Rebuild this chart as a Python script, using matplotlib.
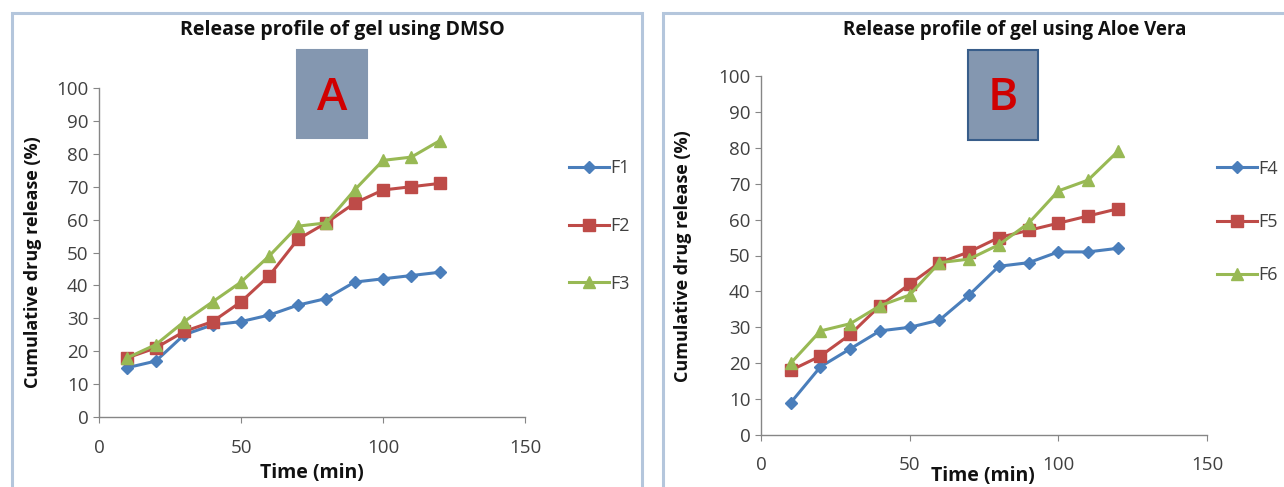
import matplotlib
matplotlib.use('Agg')
import matplotlib.pyplot as plt
from matplotlib.patches import Rectangle

plt.rcParams['font.family'] = ['Open Sans', 'DejaVu Sans']

# Data
time = [10, 20, 30, 40, 50, 60, 70, 80, 90, 100, 110, 120]

f1 = [15, 17, 25, 28, 29, 31, 34, 36, 41, 42, 43, 44]
f2 = [18, 21, 26, 29, 35, 43, 54, 59, 65, 69, 70, 71]
f3 = [18, 22, 29, 35, 41, 49, 58, 59, 69, 78, 79, 84]

f4 = [9, 19, 24, 29, 30, 32, 39, 47, 48, 51, 51, 52]
f5 = [18, 22, 28, 36, 42, 48, 51, 55, 57, 59, 61, 63]
f6 = [20, 29, 31, 36, 39, 48, 49, 53, 59, 68, 71, 79]

x_ticks = [0, 50, 100, 150]
y_ticks = list(range(0, 101, 10))

W, H = 1284, 487
BLUE, RED, GREEN = '#4A7EBB', '#BE4B48', '#98B954'
AXIS_GREY = '#868686'
TEXT = '#404040'


def fx(px):
    return px / W


def fy(py):
    return 1 - py / H


fig = plt.figure(figsize=(W / 100, H / 100), dpi=100)

# panel frames
for x0, x1 in [(12, 642), (663, 1300)]:
    fig.patches.append(Rectangle((fx(x0), fy(500)), fx(x1) - fx(x0), fy(13) - fy(500),
                                 transform=fig.transFigure, fill=False,
                                 edgecolor='#B4C6DC', linewidth=2.2, zorder=0))


def panel(rect, series, labels, title, title_x, title_size, letter, box, box_edge,
          ylabel_x, ylabel_y, xtick_pad, leg_anchor, leg_space):
    ax = fig.add_axes(rect)
    markers = ['D', 's', '^']
    sizes = [6, 8.5, 8.5]
    colors = [BLUE, RED, GREEN]
    for vals, lab, m, ms, c in zip(series, labels, markers, sizes, colors):
        ax.plot(time, vals, color=c, marker=m, markersize=ms, linewidth=2.2,
                markeredgecolor=c, label=lab)
    ax.set_xlim(0, 150)
    ax.set_ylim(0, 100)
    ax.set_xticks(x_ticks)
    ax.set_yticks(y_ticks)
    for s in ['top', 'right']:
        ax.spines[s].set_visible(False)
    for s in ['left', 'bottom']:
        ax.spines[s].set_color(AXIS_GREY)
        ax.spines[s].set_linewidth(1)
    ax.tick_params(colors=AXIS_GREY, labelcolor=TEXT, labelsize=13.5, length=4)
    ax.tick_params(axis='x', pad=xtick_pad)
    ax.legend(loc='center left', bbox_to_anchor=leg_anchor,
              bbox_transform=fig.transFigure, frameon=False, fontsize=13,
              labelspacing=leg_space, handlelength=2.2, handletextpad=0.1,
              borderpad=0, borderaxespad=0, labelcolor=TEXT)
    fig.text(fx(title_x), fy(30), title, ha='center', va='center',
             fontsize=title_size, fontweight='bold', color='#111111')
    fig.text(fx(ylabel_x), fy(ylabel_y), 'Cumulative drug release (%)',
             rotation=90, ha='center', va='center',
             fontsize=13, fontweight='bold', color='#111111')
    bx0, by0, bx1, by1 = box
    fig.patches.append(Rectangle((fx(bx0), fy(by1)), fx(bx1) - fx(bx0), fy(by0) - fy(by1),
                                 transform=fig.transFigure, facecolor='#8497B0',
                                 edgecolor=box_edge, linewidth=1.5, zorder=5))
    fig.text(fx((bx0 + bx1) / 2), fy((by0 + by1) / 2 + 4), letter, ha='center', va='center',
             fontsize=33, fontweight='semibold', color='#D00000', zorder=6)
    return ax


axA = panel([fx(99), fy(417), fx(525) - fx(99), fy(88) - fy(417)],
            [f1, f2, f3], ['F1', 'F2', 'F3'],
            'Release profile of gel using DMSO', 342, 14, 'A',
            (297, 50, 367, 138), '#8497B0', 33, 262, 12,
            (fx(569), fy(226)), 2.2)
fig.text(fx(312), fy(473), 'Time (min)', ha='center', va='center',
         fontsize=14, fontweight='bold', color='#111111')

axB = panel([fx(761), fy(435), fx(1207) - fx(761), fy(76) - fy(435)],
            [f4, f5, f6], ['F4', 'F5', 'F6'],
            'Release profile of gel using Aloe Vera', 1015, 13.5, 'B',
            (968, 50, 1038, 140), '#385D8A', 683, 256, 11,
            (fx(1217), fy(222)), 1.95)
fig.text(fx(983), fy(476), 'Time (min)', ha='center', va='center',
         fontsize=14, fontweight='bold', color='#111111')

fig.savefig('out.png', dpi=100)
